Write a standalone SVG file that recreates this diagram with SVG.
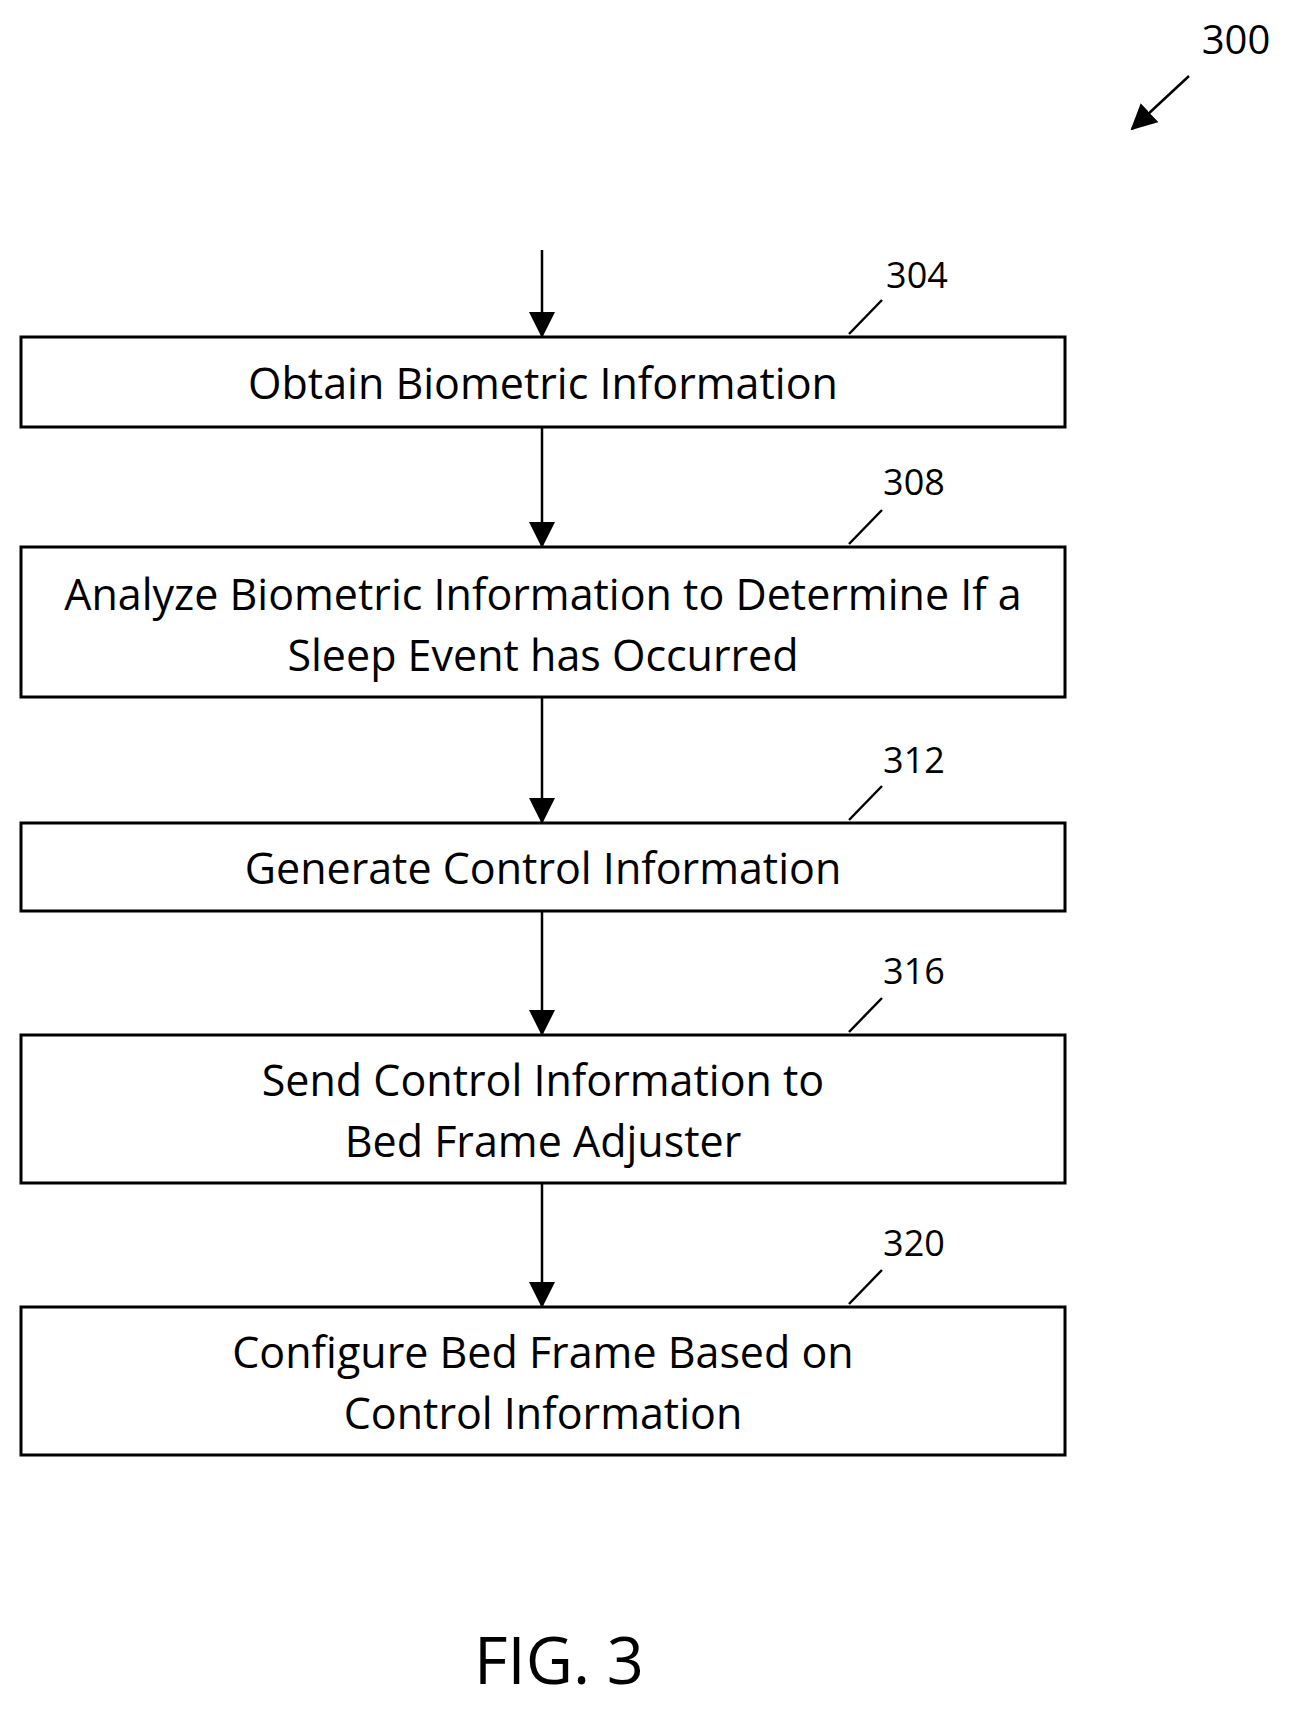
<svg xmlns="http://www.w3.org/2000/svg" width="1303" height="1718" viewBox="0 0 1303 1718">
<defs>
<marker id="a2" markerWidth="26" markerHeight="26" refX="24" refY="13" orient="auto" markerUnits="userSpaceOnUse" viewBox="0 0 26 26"><path d="M0,0 L26,13 L0,26 z" fill="#000"/></marker></defs>
<style>
.b{fill:#fff;stroke:#000;stroke-width:3}
.t{font-family:"Open Sans","Liberation Sans",sans-serif;font-size:43px;text-anchor:middle;dominant-baseline:central;fill:#000}
.n{font-family:"Open Sans","Liberation Sans",sans-serif;font-size:36px;text-anchor:middle;dominant-baseline:central;fill:#000}
.l{stroke:#000;stroke-width:2.5;fill:none}
</style>
<rect width="1303" height="1718" fill="#fff"/>
<g id="connectors">
<line class="l" x1="542" y1="250" x2="542" y2="336" marker-end="url(#a2)"/>
<line class="l" x1="542" y1="427" x2="542" y2="546" marker-end="url(#a2)"/>
<line class="l" x1="542" y1="697" x2="542" y2="822" marker-end="url(#a2)"/>
<line class="l" x1="542" y1="911" x2="542" y2="1034" marker-end="url(#a2)"/>
<line class="l" x1="542" y1="1183" x2="542" y2="1306" marker-end="url(#a2)"/>
<line class="l" x1="1189" y1="76" x2="1132" y2="129" marker-end="url(#a2)"/>
<line class="l" x1="849" y1="334" x2="882" y2="300"/>
<line class="l" x1="849" y1="544" x2="882" y2="510"/>
<line class="l" x1="849" y1="820" x2="882" y2="786"/>
<line class="l" x1="849" y1="1032" x2="882" y2="998"/>
<line class="l" x1="849" y1="1304" x2="882" y2="1270"/>
</g>
<g id="n304"><rect class="b" x="21" y="337" width="1044" height="90"/><text class="t" x="543" y="382">Obtain Biometric Information</text><text class="n" x="917" y="274">304</text></g>
<g id="n308"><rect class="b" x="21" y="547" width="1044" height="150"/><text class="t" x="543" y="593">Analyze Biometric Information to Determine If a</text><text class="t" x="543" y="654">Sleep Event has Occurred</text><text class="n" x="914" y="481">308</text></g>
<g id="n312"><rect class="b" x="21" y="823" width="1044" height="88"/><text class="t" x="543" y="867">Generate Control Information</text><text class="n" x="914" y="759">312</text></g>
<g id="n316"><rect class="b" x="21" y="1035" width="1044" height="148"/><text class="t" x="543" y="1079">Send Control Information to</text><text class="t" x="543" y="1140">Bed Frame Adjuster</text><text class="n" x="914" y="970">316</text></g>
<g id="n320"><rect class="b" x="21" y="1307" width="1044" height="148"/><text class="t" x="543" y="1351">Configure Bed Frame Based on</text><text class="t" x="543" y="1412">Control Information</text><text class="n" x="914" y="1242">320</text></g>
<g id="labels"><text class="n" x="1236" y="38" style="font-size:40px">300</text><text class="t" x="559" y="1659" style="font-size:65px">FIG. 3</text></g>
</svg>
